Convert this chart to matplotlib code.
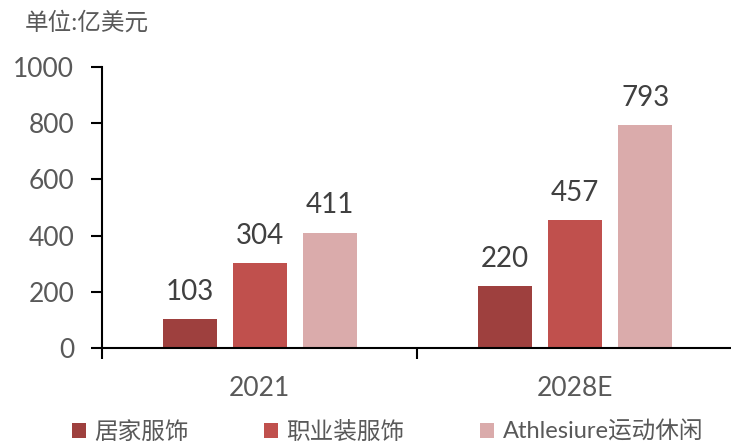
import matplotlib
matplotlib.use("Agg")
import matplotlib.pyplot as plt
from matplotlib.patches import Patch
import numpy as np

plt.rcParams['font.family'] = ['Lato', 'Noto Sans CJK SC', 'DejaVu Sans']

years = ['2021', '2028E']
series = ['居家服饰', '职业装服饰', 'Athlesiure运动休闲']
home = [103, 220]
work = [304, 457]
athleisure = [411, 793]
colors = ['#9E403E', '#C0504D', '#DAABAB']
grey = '#595959'

fig = plt.figure(figsize=(7.31, 4.43), dpi=100)
ax = fig.add_axes([0.1395, 0.2144, 0.8632, 0.6344])

centers = np.array([0.5, 1.5])
width = 0.171
step = 0.222
for i, (vals, c) in enumerate(zip([home, work, athleisure], colors)):
    xs = centers + (i - 1) * step
    ax.bar(xs, vals, width=width, color=c, zorder=2)
    for x, v in zip(xs, vals):
        ax.text(x, v + 50, str(v), ha='center', va='bottom', fontsize=20, color='#404040')

ax.set_xlim(0, 2)
ax.set_ylim(0, 1000)
ax.set_yticks([0, 200, 400, 600, 800, 1000])
ax.tick_params(axis='y', labelsize=19, labelcolor=grey, length=8, width=1.5, pad=12)
ax.set_xticks([0, 1, 2])
ax.set_xticklabels([])
ax.tick_params(axis='x', which='major', length=8, width=1.5)
ax.set_xticks(centers, minor=True)
ax.set_xticklabels(years, minor=True)
ax.tick_params(axis='x', which='minor', length=0, labelsize=19, labelcolor=grey, pad=20)

for s in ['top', 'right']:
    ax.spines[s].set_visible(False)
for s in ['left', 'bottom']:
    ax.spines[s].set_linewidth(1.5)
    ax.spines[s].set_color('black')

fig.text(0.034, 0.95, '单位:亿美元', fontsize=17, color=grey, ha='left', va='center')

handles = [Patch(facecolor=c, edgecolor='none') for c in colors]
fig.legend(handles, series, loc='center left', bbox_to_anchor=(0.098, 0.025), ncol=3,
           frameon=False, fontsize=17, labelcolor=grey, handlelength=0.6, handleheight=0.6,
           handletextpad=0.35, columnspacing=3.2, borderpad=0, borderaxespad=0)

fig.savefig('out.png', dpi=100)
